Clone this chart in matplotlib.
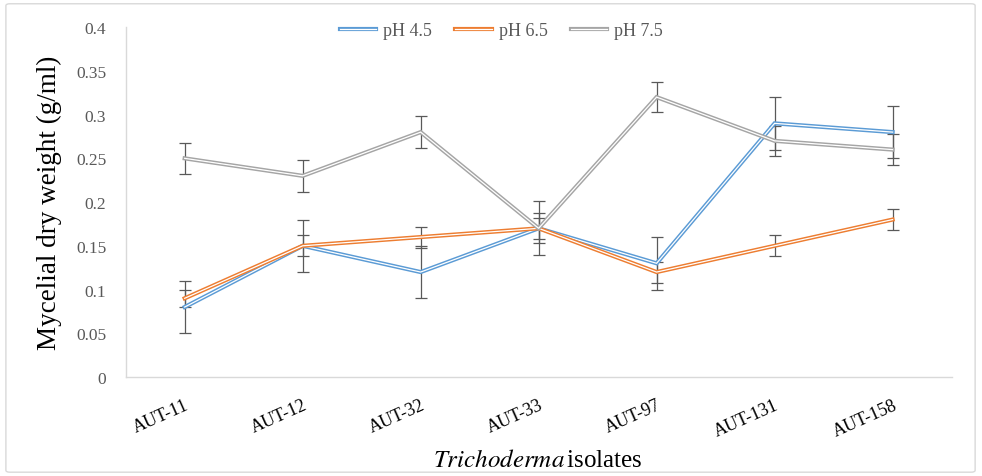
import matplotlib.pyplot as plt
from matplotlib.lines import Line2D
from matplotlib.patches import FancyBboxPatch

# Data
isolates = ['AUT-11', 'AUT-12', 'AUT-32', 'AUT-33', 'AUT-97', 'AUT-131', 'AUT-158']
ph45 = [0.08, 0.15, 0.12, 0.17, 0.13, 0.29, 0.28]
ph65 = [0.09, 0.15, 0.16, 0.17, 0.12, 0.15, 0.18]
ph75 = [0.25, 0.23, 0.28, 0.17, 0.32, 0.27, 0.26]
err45 = [0.03, 0.03, 0.03, 0.031, 0.03, 0.03, 0.03]
err65 = [0.01, 0.012, 0.012, 0.012, 0.012, 0.012, 0.012]
err75 = [0.018, 0.018, 0.018, 0.017, 0.017, 0.017, 0.018]
y_ticks = [0, 0.05, 0.1, 0.15, 0.2, 0.25, 0.3, 0.35, 0.4]
y_tick_labels = ['0', '0.05', '0.1', '0.15', '0.2', '0.25', '0.3', '0.35', '0.4']

series = [
    ('pH 4.5', ph45, err45, '#5b9bd5'),
    ('pH 6.5', ph65, err65, '#ed7d31'),
    ('pH 7.5', ph75, err75, '#a5a5a5'),
]

plt.rcParams['font.family'] = ['Liberation Serif', 'DejaVu Serif']

fig = plt.figure(figsize=(9.82, 4.77), dpi=100)
ax = fig.add_axes([0.128, 0.2075, 0.841, 0.7335])

# light border around the whole chart area
fig.patches.append(FancyBboxPatch((0.006, 0.008), 0.987, 0.982,
                                  boxstyle='round,pad=0,rounding_size=0.004',
                                  transform=fig.transFigure, fill=False,
                                  edgecolor='#d9d9d9', linewidth=1.0))

x = list(range(len(isolates)))
handles = []
for label, vals, errs, color in series:
    ax.errorbar(x, vals, yerr=errs, fmt='none', ecolor='#595959',
                elinewidth=0.9, capsize=4, capthick=0.9, zorder=2)
    # Excel "double" compound line: coloured outer line with white core
    ax.plot(x, vals, color=color, lw=3.0, solid_joinstyle='miter', zorder=3)
    ax.plot(x, vals, color='white', lw=0.9, solid_joinstyle='miter', zorder=3)
    handles.append((Line2D([], [], color=color, lw=3.0),
                    Line2D([], [], color='white', lw=0.9)))

ax.set_xlim(-0.5, len(isolates) - 0.5)
ax.set_ylim(0, 0.4)
ax.set_yticks(y_ticks)
ax.set_yticklabels(y_tick_labels, fontsize=12.5, color='#595959')
ax.set_xticks(x)
ax.set_xticklabels(isolates, fontsize=13, color='#000000', rotation=24,
                   ha='right', va='top', rotation_mode='anchor')
ax.tick_params(axis='both', length=0)
ax.tick_params(axis='y', pad=14)
ax.tick_params(axis='x', pad=14)

for side in ['top', 'right']:
    ax.spines[side].set_visible(False)
for side in ['left', 'bottom']:
    ax.spines[side].set_color('#d9d9d9')
    ax.spines[side].set_linewidth(1.0)

ax.set_ylabel('Mycelial dry weight (g/ml)', fontsize=19.5, labelpad=10)
fig.text(0.548, 0.022, r'$\mathit{Trichoderma}\,$' + 'isolates', fontsize=18,
         ha='center', va='baseline', math_fontfamily='stix')

leg = ax.legend(handles, ['pH 4.5', 'pH 6.5', 'pH 7.5'], loc='upper center',
                bbox_to_anchor=(0.455, 1.06), ncol=3, frameon=False,
                fontsize=13, handlelength=2.0, columnspacing=1.3,
                handletextpad=0.4)
for t in leg.get_texts():
    t.set_color('#595959')

fig.savefig('out.png', dpi=100)
